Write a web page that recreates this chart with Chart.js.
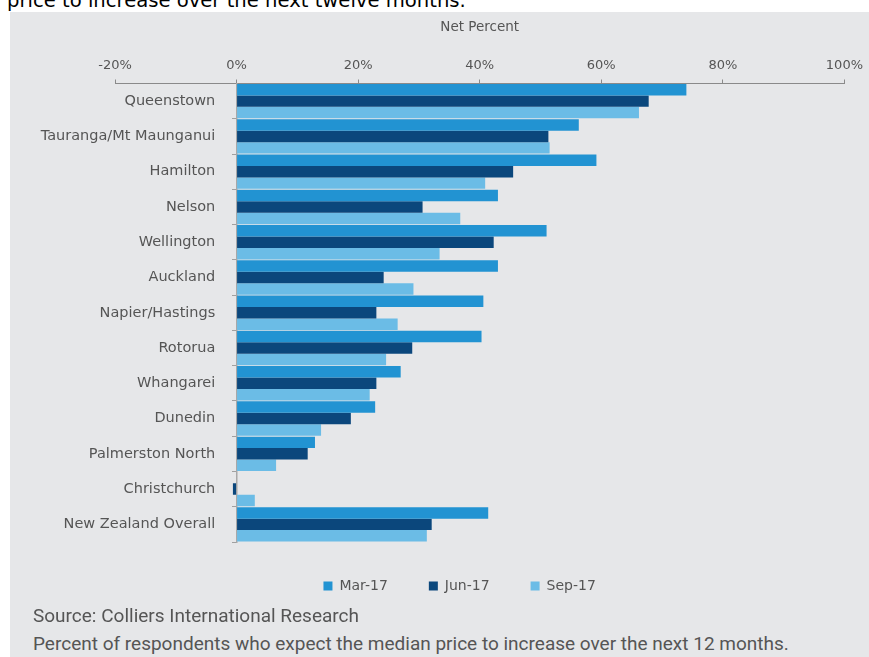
<!DOCTYPE html>
<html>
<head>
<meta charset="utf-8">
<script src="https://cdn.jsdelivr.net/npm/chart.js@4/dist/chart.umd.min.js"></script>
<style>
  body { margin: 0; background: #fff; width: 869px; height: 657px; overflow: hidden; position: relative; }
  .caption { position: absolute; left: 7px; top: -9px; font: 19.6px/20px "DejaVu Sans", sans-serif; color: #000; white-space: nowrap; }
  .panel { position: absolute; left: 10px; top: 12px; width: 859px; height: 645px; background: #e6e7e9; }
  .chartBox { position: absolute; left: 0; top: 0; width: 859px; height: 595px; }
  .note { position: absolute; left: 23px; font: 19px/22px Roboto, sans-serif; color: #555; white-space: nowrap; }
</style>
</head>
<body>
<div class="caption">price to increase over the next twelve months.</div>
<div class="panel">
  <div class="chartBox"><canvas id="grafico"></canvas></div>
  <div class="note" style="top:593px">Source: Colliers International Research</div>
  <div class="note" style="top:621px">Percent of respondents who expect the median price to increase over the next 12 months.</div>
</div>
<script>
const regioes = ['Queenstown', 'Tauranga/Mt Maunganui', 'Hamilton', 'Nelson', 'Wellington', 'Auckland',
  'Napier/Hastings', 'Rotorua', 'Whangarei', 'Dunedin', 'Palmerston North', 'Christchurch', 'New Zealand Overall'];
const periodos = ['Mar-17', 'Jun-17', 'Sep-17'];
const mar17 = [74.0, 56.3, 59.2, 43.0, 51.0, 43.0, 40.6, 40.3, 27.0, 22.8, 12.9, 0, 41.4];
const jun17 = [67.8, 51.3, 45.5, 30.6, 42.3, 24.2, 23.0, 28.9, 23.0, 18.8, 11.7, -0.6, 32.1];
const sep17 = [66.2, 51.5, 40.9, 36.8, 33.4, 29.1, 26.5, 24.6, 21.9, 13.9, 6.5, 3.0, 31.3];
const ticksX = [-20, 0, 20, 40, 60, 80, 100];

const cores = ['#2293d2', '#0b477c', '#6bbce6'];
const cinza = '#555';

Chart.defaults.font.family = '"DejaVu Sans", sans-serif';
Chart.defaults.color = cinza;

// legenda fica um pouco à esquerda do centro da área do gráfico
const ajusteLegenda = {
  id: 'ajusteLegenda',
  afterLayout(chart) {
    const leg = chart.legend;
    leg.left -= 22;
    leg.right -= 22;
    leg.top -= 4;
    leg.bottom -= 4;
  }
};

const graf = document.getElementById('grafico');
new Chart(graf.getContext('2d'), {
  type: 'bar',
  data: {
    labels: regioes,
    datasets: [mar17, jun17, sep17].map((valores, i) => ({
      label: periodos[i],
      data: valores,
      backgroundColor: cores[i],
      borderWidth: 0,
      categoryPercentage: 0.975,
      barPercentage: 1
    }))
  },
  options: {
    indexAxis: 'y',
    responsive: true,
    maintainAspectRatio: false,
    animation: false,
    layout: { padding: { left: 105, right: 20.7, top: 0, bottom: 0 } },
    scales: {
      x: {
        position: 'top',
        min: -20,
        max: 100,
        afterBuildTicks: s => { s.ticks = ticksX.map(v => ({ value: v })); },
        afterFit: s => { s.height = 71.5; },
        ticks: {
          callback: v => v + '%',
          font: { size: 13 },
          padding: 6
        },
        grid: { drawOnChartArea: false, tickLength: 4, color: '#8a8a8a' },
        border: { color: '#8a8a8a', width: 1 },
        title: {
          display: true,
          text: 'Net Percent',
          font: { size: 13.5 },
          padding: { top: 7, bottom: 0 }
        }
      },
      // eixo das categorias no 0%, só linha e marcas
      y: {
        position: { x: 0 },
        ticks: { display: false },
        grid: { drawOnChartArea: false, tickLength: 4, color: '#a0a0a0' },
        border: { color: '#a8a8a8', width: 1.5 }
      },
      // nomes das regiões um pouco à esquerda do eixo
      nomes: {
        type: 'category',
        axis: 'y',
        offset: true,
        position: { x: -3.5 },
        ticks: { font: { size: 14.5 } },
        grid: { display: false },
        border: { display: false }
      }
    },
    plugins: {
      legend: {
        position: 'bottom',
        labels: {
          boxWidth: 9,
          boxHeight: 9,
          padding: 41,
          font: { size: 14 }
        }
      },
      tooltip: { enabled: false }
    }
  },
  plugins: [ajusteLegenda]
});
</script>
</body>
</html>
